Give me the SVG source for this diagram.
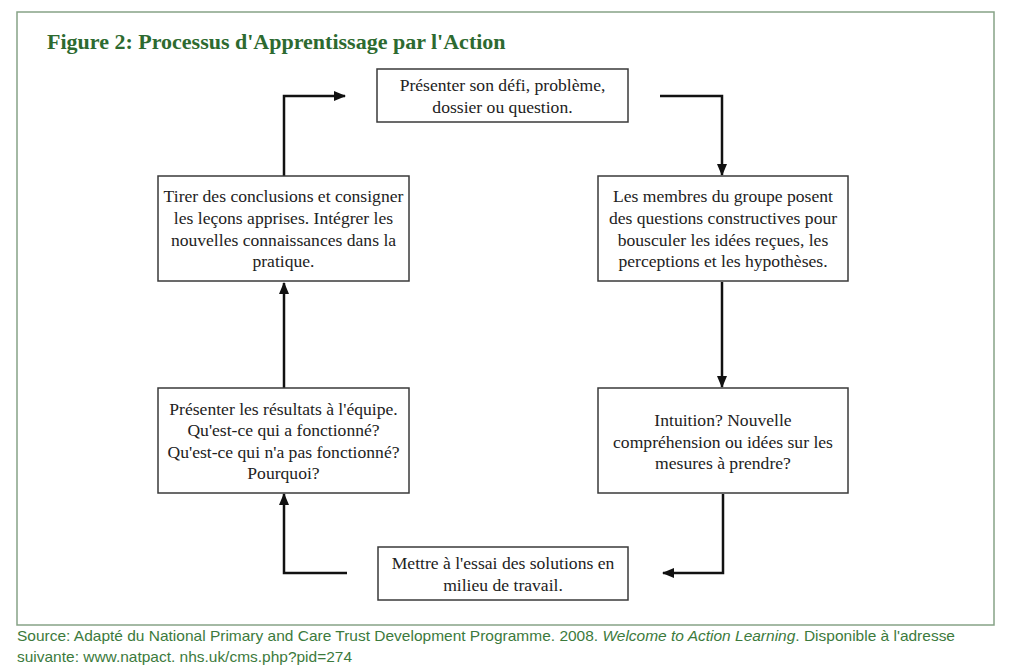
<svg xmlns="http://www.w3.org/2000/svg" width="1024" height="666" viewBox="0 0 1024 666">
<style>
.frame{fill:#fff;stroke:#86a386;stroke-width:1.5}
.box{fill:#fff;stroke:#3a3a3a;stroke-width:1.5}
.t{font-family:"Liberation Serif","Times New Roman",serif;font-size:17.6px;fill:#222;text-anchor:middle}
.title{font-family:"Liberation Serif","Times New Roman",serif;font-size:22px;font-weight:bold;fill:#2d6a30}
.src{font-family:"Liberation Sans",Arial,sans-serif;font-size:15px;fill:#3c7a3c}
.c{fill:none;stroke:#111;stroke-width:2.5}
</style>
<defs>
<marker id="ah" markerWidth="12" markerHeight="10" refX="11" refY="5" orient="auto" markerUnits="userSpaceOnUse">
<path d="M0,0 L12,5 L0,10 Z" fill="#111"/>
</marker>
</defs>
<rect width="1024" height="666" fill="#fff"/>
<rect class="frame" x="17" y="12" width="977" height="613"/>
<text class="title" x="47" y="49">Figure 2: Processus d'Apprentissage par l'Action</text>
<g id="connectors">
<path class="c" d="M284,176 V96 H345" marker-end="url(#ah)"/>
<path class="c" d="M660,96 H722 V175" marker-end="url(#ah)"/>
<path class="c" d="M722,282 V387" marker-end="url(#ah)"/>
<path class="c" d="M723,494 V573 H663" marker-end="url(#ah)"/>
<path class="c" d="M347,573 H284 V494" marker-end="url(#ah)"/>
<path class="c" d="M284,388 V283" marker-end="url(#ah)"/>
</g>
<g id="n1">
<rect class="box" x="377" y="69" width="251" height="53"/>
<text class="t" x="502.5" y="91">Présenter son défi, problème,</text>
<text class="t" x="502.5" y="113">dossier ou question.</text>
</g>
<g id="n2">
<rect class="box" x="598" y="176" width="250" height="105"/>
<text class="t" x="723" y="202">Les membres du groupe posent</text>
<text class="t" x="723" y="224">des questions constructives pour</text>
<text class="t" x="723" y="246">bousculer les idées reçues, les</text>
<text class="t" x="723" y="267">perceptions et les hypothèses.</text>
</g>
<g id="n3">
<rect class="box" x="598" y="388" width="250" height="105"/>
<text class="t" x="723" y="426">Intuition? Nouvelle</text>
<text class="t" x="723" y="448">compréhension ou idées sur les</text>
<text class="t" x="723" y="469">mesures à prendre?</text>
</g>
<g id="n4">
<rect class="box" x="378" y="547" width="250" height="53"/>
<text class="t" x="503" y="569">Mettre à l'essai des solutions en</text>
<text class="t" x="503" y="591">milieu de travail.</text>
</g>
<g id="n5">
<rect class="box" x="158" y="388" width="251" height="105"/>
<text class="t" x="283.5" y="415">Présenter les résultats à l'équipe.</text>
<text class="t" x="283.5" y="436">Qu'est-ce qui a fonctionné?</text>
<text class="t" x="283.5" y="458">Qu'est-ce qui n'a pas fonctionné?</text>
<text class="t" x="283.5" y="479">Pourquoi?</text>
</g>
<g id="n6">
<rect class="box" x="158" y="176" width="251" height="105"/>
<text class="t" x="283.5" y="202">Tirer des conclusions et consigner</text>
<text class="t" x="283.5" y="224">les leçons apprises. Intégrer les</text>
<text class="t" x="283.5" y="246">nouvelles connaissances dans la</text>
<text class="t" x="283.5" y="267">pratique.</text>
</g>
<text class="src" x="17" y="641" textLength="938" lengthAdjust="spacingAndGlyphs">Source: Adapté du National Primary and Care Trust Development Programme. 2008. <tspan font-style="italic">Welcome to Action Learning</tspan>. Disponible à l'adresse</text>
<text class="src" x="17" y="662" textLength="335" lengthAdjust="spacingAndGlyphs">suivante: www.natpact. nhs.uk/cms.php?pid=274</text>
</svg>
